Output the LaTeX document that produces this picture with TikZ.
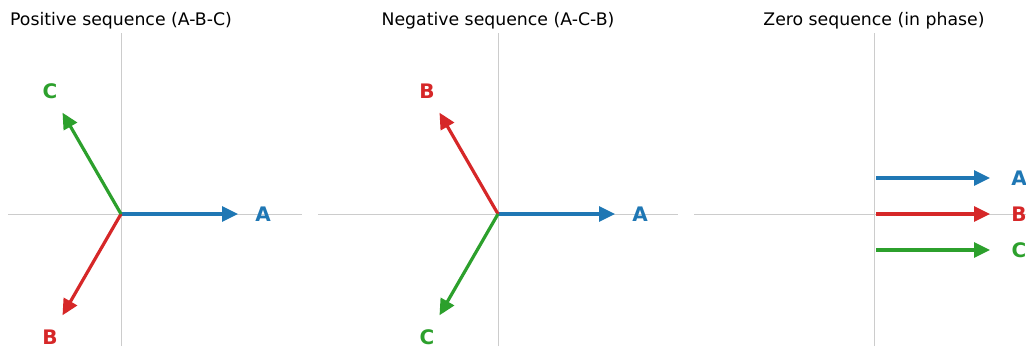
\documentclass[tikz,border=0pt]{standalone}
\usepackage{fontspec}
\setmainfont{DejaVu Sans}
\usepackage{xcolor}
\definecolor{phaseA}{HTML}{1F77B4}
\definecolor{phaseB}{HTML}{D62728}
\definecolor{phaseC}{HTML}{2CA02C}
\usepackage{tikz}
\usetikzlibrary{
  arrows.meta,
  positioning
}
\tikzset{
  axisline/.style={draw=black!20, line width=1pt},
  phasor/.style={-{Triangle[length=16pt, width=15pt]}, line width=3.2pt},
  phlabel/.style={font=\fontsize{20}{20}\selectfont\bfseries,
    inner sep=0pt},
  paneltitle/.style={font=\fontsize{17.3}{17.3}\selectfont,
    inner sep=0pt, anchor=base},
}

\begin{document}
\begin{tikzpicture}[x=1pt, y=1pt]
  \useasboundingbox (0,0) rectangle (1026,346);

  % Positive sequence
  \begin{scope}[shift={(121,132)}]
    \draw[axisline] (-113,0) -- (181,0);
    \draw[axisline] (0,-132) -- (0,181);
    \node[paneltitle] (postitle) at (0,320-132) {Positive sequence (A-B-C)};
    \coordinate (pos0) at (0,0);
    \coordinate (posA) at (0:117);
    \coordinate (posB) at (240:117);
    \coordinate (posC) at (120:117);
    \node[phlabel, text=phaseA] (posAlab) at (0:142) {A};
    \node[phlabel, text=phaseB] (posBlab) at (240:142) {B};
    \node[phlabel, text=phaseC] (posClab) at (120:142) {C};
    \draw[phasor, phaseA] (pos0) -- (posA);
    \draw[phasor, phaseB] (pos0) -- (posB);
    \draw[phasor, phaseC] (pos0) -- (posC);
  \end{scope}

  % Negative sequence
  \begin{scope}[shift={(498,132)}]
    \draw[axisline] (-180,0) -- (180,0);
    \draw[axisline] (0,-132) -- (0,181);
    \node[paneltitle] (negtitle) at (0,188) {Negative sequence (A-C-B)};
    \coordinate (neg0) at (0,0);
    \coordinate (negA) at (0:117);
    \coordinate (negB) at (120:117);
    \coordinate (negC) at (240:117);
    \node[phlabel, text=phaseA] (negAlab) at (0:142) {A};
    \node[phlabel, text=phaseB] (negBlab) at (120:142) {B};
    \node[phlabel, text=phaseC] (negClab) at (240:142) {C};
    \draw[phasor, phaseA] (neg0) -- (negA);
    \draw[phasor, phaseB] (neg0) -- (negB);
    \draw[phasor, phaseC] (neg0) -- (negC);
  \end{scope}

  % Zero sequence
  \begin{scope}[shift={(874,132)}]
    \draw[axisline] (-180,0) -- (152,0);
    \draw[axisline] (0,-132) -- (0,181);
    \node[paneltitle] (zerotitle) at (0,188) {Zero sequence (in phase)};
    \coordinate (zeroA0) at (2,36);
    \coordinate (zeroB0) at (2,0);
    \coordinate (zeroC0) at (2,-36);
    \coordinate (zeroA) at (116,36);
    \coordinate (zeroB) at (116,0);
    \coordinate (zeroC) at (116,-36);
    \node[phlabel, text=phaseA] (zeroAlab) at (145,36) {A};
    \node[phlabel, text=phaseB] (zeroBlab) at (145,0) {B};
    \node[phlabel, text=phaseC] (zeroClab) at (145,-36) {C};
    \draw[phasor, phaseA] (zeroA0) -- (zeroA);
    \draw[phasor, phaseB] (zeroB0) -- (zeroB);
    \draw[phasor, phaseC] (zeroC0) -- (zeroC);
  \end{scope}
\end{tikzpicture}
\end{document}
